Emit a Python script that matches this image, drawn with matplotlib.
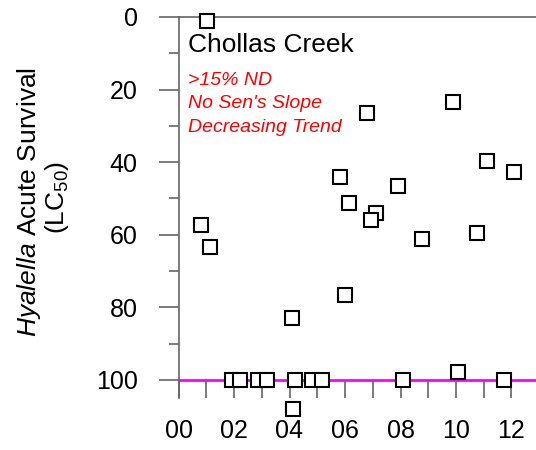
import matplotlib
matplotlib.use('Agg')
import matplotlib.pyplot as plt
import numpy as np

plt.rcParams['font.family'] = ['Liberation Sans', 'DejaVu Sans']
plt.rcParams['mathtext.fontset'] = 'custom'
plt.rcParams['mathtext.rm'] = 'Liberation Sans'
plt.rcParams['mathtext.it'] = 'Liberation Sans:italic'

# sample year (2000 = 0) and Hyalella acute survival LC50
years = [1.03, 0.82, 1.13, 1.92, 2.22, 2.88, 3.18, 4.20, 4.80, 5.16, 4.13,
         8.10, 10.08, 11.73, 4.09, 6.01, 8.76, 10.75, 9.90, 6.79, 11.13,
         12.09, 5.81, 7.90, 6.13, 7.13, 6.95]
lc50 = [1.1, 57.3, 63.4, 100, 100, 100, 100, 100, 100, 100, 108,
        100, 97.8, 100, 82.9, 76.5, 61.2, 59.6, 23.3, 26.5, 39.6,
        42.8, 44.0, 46.7, 51.3, 54.1, 55.9]

major_years = [0, 2, 4, 6, 8, 10, 12]
minor_years = [1, 3, 5, 7, 9, 11]
y_major = [0, 20, 40, 60, 80, 100]
y_minor = [10, 30, 50, 70, 90]
threshold = 100

W, H = 536, 450
fig = plt.figure(figsize=(W / 100, H / 100), dpi=100)
ax = fig.add_axes([178.5 / W, 1 - 398 / H, 1 - 178.5 / W, (398 - 17) / H])

axis_col = '#666666'

ax.axhline(threshold, color='#ff00ff', lw=2, zorder=2)
ax.plot(years, lc50, linestyle='none', marker='s', ms=9.5, mew=1.5,
        mfc='white', mec='black', clip_on=False, zorder=3)

ax.set_xlim(0, (W - 178.5) / 27.75)
ax.set_ylim(105, 0)

ax.spines['right'].set_visible(False)
ax.spines['bottom'].set_position(('data', threshold))
ax.spines['bottom'].set_visible(False)
ax.spines['left'].set_color(axis_col)
ax.spines['top'].set_color(axis_col)
ax.spines['left'].set_linewidth(1.2)
ax.spines['top'].set_linewidth(1.2)

ax.set_xticks(major_years)
ax.set_xticks(minor_years, minor=True)
ax.set_xticklabels([f'{v:02d}' for v in major_years])
ax.set_yticks(y_major)
ax.set_yticks(y_minor, minor=True)

ax.tick_params(axis='x', which='both', direction='out', length=13,
               width=1.2, color=axis_col, labelsize=18, pad=15)
ax.tick_params(axis='y', which='major', direction='out', length=14.5,
               width=1.2, color=axis_col, labelsize=18, pad=15)
ax.tick_params(axis='y', which='minor', direction='out', length=7.5,
               width=1.2, color=axis_col)

fig.text(188 / W, 1 - 52 / H, 'Chollas Creek', fontsize=19,
         va='baseline', ha='left')
notes = ['>15% ND', "No Sen's Slope", 'Decreasing Trend']
for txt, yb in zip(notes, [85, 108, 132]):
    fig.text(188 / W, 1 - yb / H, txt, fontsize=14, color='#ff0000',
             style='italic', va='baseline', ha='left')

fig.text(29 / W, 1 - 202 / H, r'$\mathit{Hyalella}$ Acute Survival',
         fontsize=19, rotation=90, ha='center', va='center')
fig.text(57 / W, 1 - 197 / H, r'(LC$_{50}$)',
         fontsize=19, rotation=90, ha='center', va='center')

fig.savefig('out.png', dpi=100, facecolor='white')
